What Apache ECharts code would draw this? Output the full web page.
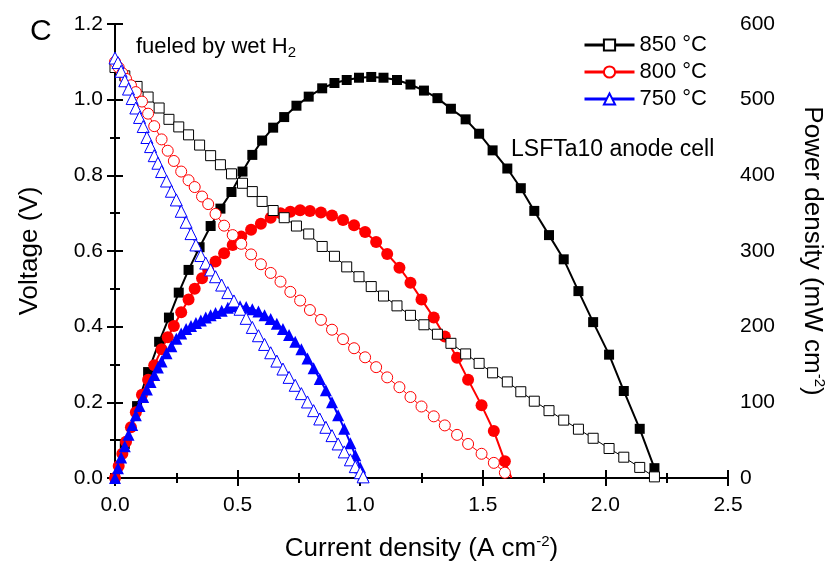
<!DOCTYPE html>
<html>
<head>
<meta charset="utf-8">
<script src="https://cdn.jsdelivr.net/npm/echarts@6/dist/echarts.min.js"></script>
<style>
html,body{margin:0;padding:0;background:#fff;}
#c{width:835px;height:570px;}
</style>
</head>
<body>
<div id="c"></div>
<script>
// ---------- data ----------
const legendNames = ['850 °C', '800 °C', '750 °C'];

const current850 = [0, 0.04, 0.09, 0.135, 0.18, 0.22, 0.26, 0.30, 0.345, 0.39, 0.43, 0.475, 0.52, 0.56, 0.60, 0.645, 0.69, 0.74, 0.79, 0.845, 0.895, 0.945, 0.995, 1.045, 1.095, 1.15, 1.205, 1.26, 1.315, 1.37, 1.43, 1.485, 1.54, 1.60, 1.655, 1.71, 1.77, 1.83, 1.89, 1.95, 2.015, 2.075, 2.14, 2.20];
const voltage850 = [1.085, 1.063, 1.035, 1.007, 0.978, 0.948, 0.928, 0.907, 0.88, 0.852, 0.828, 0.804, 0.779, 0.757, 0.731, 0.707, 0.688, 0.666, 0.645, 0.612, 0.586, 0.558, 0.532, 0.506, 0.481, 0.455, 0.43, 0.405, 0.38, 0.356, 0.328, 0.303, 0.278, 0.254, 0.228, 0.203, 0.178, 0.153, 0.129, 0.105, 0.078, 0.055, 0.028, 0.003];
const power850 = [0, 45, 95, 140, 180, 212, 245, 275, 305, 333, 356, 378, 405, 427, 446, 463, 477, 492, 504, 515, 522, 526, 529, 530, 529, 526, 520, 512, 502, 488, 474, 455, 433, 409, 383, 353, 321, 289, 247, 206, 163, 115, 65, 13];
const powerEnd850 = [2.217, 0];

const current800 = [0, 0.015, 0.03, 0.045, 0.065, 0.085, 0.11, 0.135, 0.16, 0.19, 0.215, 0.24, 0.27, 0.30, 0.325, 0.355, 0.38, 0.41, 0.445, 0.48, 0.515, 0.555, 0.595, 0.635, 0.675, 0.715, 0.755, 0.795, 0.84, 0.885, 0.93, 0.975, 1.02, 1.065, 1.11, 1.16, 1.205, 1.25, 1.30, 1.345, 1.395, 1.44, 1.495, 1.545, 1.59];
const voltage800 = [1.10, 1.085, 1.07, 1.055, 1.038, 1.02, 0.995, 0.963, 0.93, 0.895, 0.865, 0.838, 0.81, 0.787, 0.769, 0.744, 0.724, 0.698, 0.667, 0.642, 0.619, 0.591, 0.565, 0.542, 0.519, 0.492, 0.469, 0.444, 0.418, 0.392, 0.367, 0.343, 0.319, 0.293, 0.266, 0.24, 0.214, 0.189, 0.163, 0.139, 0.114, 0.09, 0.064, 0.04, 0.014];
const power800 = [0, 16, 32, 48, 67, 87, 110, 130, 149, 170, 186, 201, 219, 236, 250, 264, 275, 286, 297, 308, 319, 328, 336, 344, 350, 352, 354, 353, 351, 347, 341, 334, 325, 312, 296, 278, 258, 236, 212, 187, 159, 130, 96, 62, 22];
const powerEnd800 = [1.617, 0];

const current750 = [0, 0.012, 0.025, 0.04, 0.055, 0.07, 0.085, 0.10, 0.115, 0.13, 0.145, 0.16, 0.175, 0.19, 0.21, 0.23, 0.25, 0.27, 0.29, 0.31, 0.33, 0.35, 0.37, 0.39, 0.41, 0.435, 0.46, 0.485, 0.51, 0.535, 0.56, 0.585, 0.61, 0.635, 0.66, 0.685, 0.71, 0.735, 0.76, 0.785, 0.81, 0.835, 0.86, 0.885, 0.91, 0.935, 0.96, 0.98, 1.0, 1.012];
const voltage750 = [1.11, 1.098, 1.075, 1.05, 1.028, 1.003, 0.978, 0.953, 0.929, 0.90, 0.876, 0.852, 0.832, 0.81, 0.785, 0.758, 0.735, 0.705, 0.676, 0.646, 0.616, 0.588, 0.568, 0.55, 0.532, 0.51, 0.49, 0.468, 0.446, 0.422, 0.398, 0.376, 0.353, 0.331, 0.309, 0.288, 0.266, 0.245, 0.223, 0.201, 0.178, 0.156, 0.134, 0.112, 0.09, 0.069, 0.048, 0.03, 0.014, 0.003];
const power750 = [0, 13, 27, 42, 57, 70, 83, 95, 107, 117, 127, 136, 146, 154, 165, 174, 184, 191, 197, 201, 205, 208, 212, 215, 218, 221, 225, 227, 227, 226, 223, 220, 215, 210, 204, 197, 189, 180, 170, 158, 145, 131, 116, 100, 83, 65, 46, 30, 14, 3];

// ---------- chart ----------
const FONT = "'Liberation Sans', Arial, sans-serif";
const chart = echarts.init(document.getElementById('c'), null, {renderer: 'canvas'});

function pairs(xs, ys) { return xs.map((x, i) => [x, ys[i]]); }
function withEnd(xs, ys, end) {
  const d = pairs(xs, ys);
  if (end) d.push({value: end, symbol: 'none'});
  return d;
}

const colors = ['#000000', '#ff0000', '#0000ff'];
const symbols = ['rect', 'circle', 'triangle'];
const openSizes = [10, 11, 12];
const fillSizes = [10, 12, 12];
const sets = [
  [current850, voltage850, power850, powerEnd850],
  [current800, voltage800, power800, powerEnd800],
  [current750, voltage750, power750, null]
];

const series = [];
sets.forEach((s, k) => {
  series.push({
    name: legendNames[k] + ' P',
    type: 'line', xAxisIndex: 0, yAxisIndex: 1,
    data: withEnd(s[0], s[2], s[3]),
    symbol: symbols[k], symbolSize: fillSizes[k],
    showAllSymbol: true,
    color: colors[k],
    lineStyle: {color: colors[k], width: 2},
    itemStyle: {color: colors[k], borderWidth: 0},
    z: 3, animation: false
  });
});
sets.forEach((s, k) => {
  series.push({
    name: legendNames[k],
    type: 'line', xAxisIndex: 0, yAxisIndex: 0,
    data: pairs(s[0], s[1]),
    symbol: symbols[k], symbolSize: openSizes[k],
    showAllSymbol: true,
    color: colors[k],
    lineStyle: {color: colors[k], width: 1},
    itemStyle: {color: '#ffffff', borderColor: colors[k], borderWidth: 1},
    z: 4, animation: false
  });
});

const axisCommon = {
  axisLine: {show: true, lineStyle: {color: '#000', width: 2}},
  axisTick: {show: true, inside: false, length: 8, lineStyle: {color: '#000', width: 2}},
  minorTick: {show: true, splitNumber: 2, length: 5, lineStyle: {color: '#000', width: 2}},
  splitLine: {show: false},
  minorSplitLine: {show: false},
  axisLabel: {color: '#000', fontSize: 21, fontFamily: FONT}
};

const nameRich = {
  n: {fontSize: 26, fontFamily: FONT, color: '#000'},
  s: {fontSize: 15, fontFamily: FONT, color: '#000', padding: [0, 0, 14, 0]}
};

chart.setOption({
  animation: false,
  backgroundColor: '#ffffff',
  title: {
    text: 'C', left: 25, top: 12,
    textStyle: {fontSize: 30, fontWeight: 'normal', fontFamily: FONT, color: '#000'}
  },
  grid: {left: 115, right: 104, top: 24, bottom: 92, containLabel: false},
  legend: {
    data: legendNames,
    orient: 'vertical', left: 578, top: 29,
    itemWidth: 50, itemHeight: 14, itemGap: 5,
    textStyle: {fontSize: 22, fontFamily: FONT, color: '#000', lineHeight: 22},
    lineStyle: {width: 3},
    selectedMode: false
  },
  xAxis: [
    Object.assign({}, axisCommon, {
      type: 'value', position: 'bottom', min: 0, max: 2.5, interval: 0.5,
      axisLabel: Object.assign({}, axisCommon.axisLabel, {margin: 17, formatter: v => v.toFixed(1)}),
      name: '{n|Current density (A cm}{s|-2}{n|)}',
      nameLocation: 'middle', nameGap: 56,
      nameTextStyle: {rich: nameRich}
    }),
    Object.assign({}, axisCommon, {
      type: 'value', position: 'top', min: 0, max: 2.5, interval: 0.5,
      axisLabel: {show: false}
    })
  ],
  yAxis: [
    Object.assign({}, axisCommon, {
      type: 'value', position: 'left', min: 0, max: 1.2, interval: 0.2,
      axisLabel: Object.assign({}, axisCommon.axisLabel, {margin: 12, formatter: v => v.toFixed(1)}),
      name: 'Voltage (V)', nameLocation: 'middle', nameGap: 72, nameRotate: 90,
      nameTextStyle: {fontSize: 26, fontFamily: FONT, color: '#000'}
    }),
    Object.assign({}, axisCommon, {
      type: 'value', position: 'right', min: 0, max: 600, interval: 100,
      axisLabel: Object.assign({}, axisCommon.axisLabel, {margin: 12}),
      name: '{n|Power density (mW cm}{s|-2}{n|)}', nameLocation: 'middle', nameGap: 70, nameRotate: -90,
      nameTextStyle: {rich: nameRich}
    })
  ],
  graphic: [
    {
      type: 'text', left: 136, top: 36,
      style: {
        text: '{a|fueled by wet H}{b|2}',
        rich: {
          a: {fontSize: 22, fontFamily: FONT, fill: '#000'},
          b: {fontSize: 15, fontFamily: FONT, fill: '#000', padding: [12, 0, 0, 0]}
        }
      }
    },
    {
      type: 'text', left: 511, top: 138,
      style: {text: 'LSFTa10 anode cell', fontSize: 23, fontFamily: FONT, fill: '#000'}
    }
  ],
  series: series
});
</script>
</body>
</html>
